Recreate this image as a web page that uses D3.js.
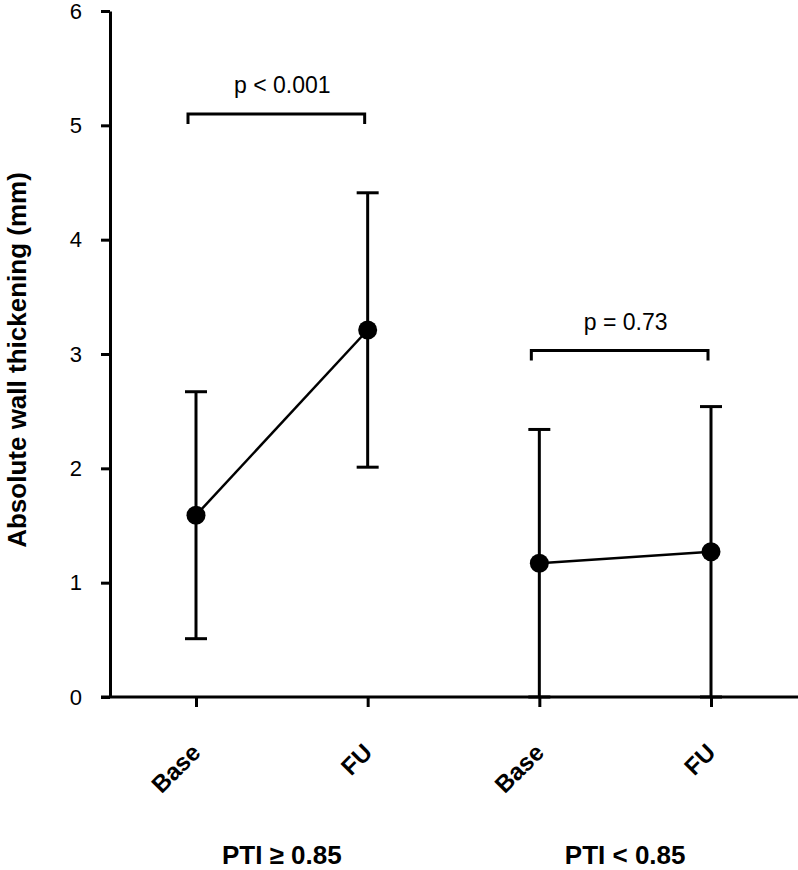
<!DOCTYPE html>
<html>
<head>
<meta charset="utf-8">
<script src="https://cdn.jsdelivr.net/npm/d3@7"></script>
<style>
  body { margin: 0; background: #fff; }
  text { font-family: "Liberation Sans", Arial, sans-serif; }
</style>
</head>
<body>
<svg id="chart"></svg>
<script>
const width = 798;
const height = 870;

// data
const timepoints = ["Base", "FU", "Base", "FU"];
const groups = ["PTI \u2265 0.85", "PTI < 0.85"];
const means = [1.59, 3.21, 1.17, 1.27];
const lower = [0.51, 2.01, 0, 0];
const upper = [2.67, 4.41, 2.34, 2.54];
const yTicks = [0, 1, 2, 3, 4, 5, 6];
const pLabels = ["p < 0.001", "p = 0.73"];
const pLevels = [5.1, 3.03];

const svg = d3.select("#chart").attr("width", width).attr("height", height);

const y = d3.scaleLinear().domain([0, 6]).range([697, 11]);
const x = d3.scalePoint().domain(d3.range(timepoints.length)).range([196, 711]);

// y axis
const yAxis = svg.append("g")
  .attr("transform", "translate(110,0)")
  .call(d3.axisLeft(y).tickValues(yTicks).tickFormat(d3.format("d"))
    .tickSize(9).tickSizeOuter(0).tickPadding(19));
yAxis.select(".domain").attr("stroke", "#000").attr("stroke-width", 3);
yAxis.selectAll(".tick line").attr("stroke-width", 3);
yAxis.selectAll(".tick text").attr("font-size", 22).attr("fill", "#000")
  .attr("font-family", "Liberation Sans, Arial, sans-serif");

// x axis
const xAxis = svg.append("g")
  .attr("transform", "translate(0,697)")
  .call(d3.axisBottom(x).tickSize(10).tickSizeOuter(0).tickFormat(""));
xAxis.select(".domain").attr("d", "M101,0H798").attr("stroke-width", 3);
xAxis.selectAll(".tick line").attr("stroke-width", 3);

// rotated tick labels
svg.append("g").selectAll("text")
  .data(timepoints)
  .join("text")
  .attr("transform", (d, i) => `translate(${x(i) + 6},754) rotate(-45)`)
  .attr("text-anchor", "end")
  .attr("font-size", 24)
  .attr("font-weight", "bold")
  .text(d => d);

// group labels
svg.append("g").selectAll("text")
  .data(groups)
  .join("text")
  .attr("x", (d, i) => (x(i * 2) + x(i * 2 + 1)) / 2)
  .attr("y", 864)
  .attr("text-anchor", "middle")
  .attr("font-size", 26)
  .attr("font-weight", "bold")
  .text(d => d);

// y label
svg.append("text")
  .attr("transform", "translate(26,360) rotate(-90)")
  .attr("text-anchor", "middle")
  .attr("font-size", 26)
  .attr("font-weight", "bold")
  .text("Absolute wall thickening (mm)");

// connecting lines per group
const line = d3.line().x(d => x(d)).y(d => y(means[d]));
[[0, 1], [2, 3]].forEach(pair => {
  svg.append("path")
    .attr("d", line(pair))
    .attr("fill", "none")
    .attr("stroke", "#000")
    .attr("stroke-width", 2.5);
});

// error bars
const eb = svg.append("g").attr("stroke", "#000").attr("stroke-width", 3);
eb.selectAll(".v").data(means).join("line")
  .attr("x1", (d, i) => x(i)).attr("x2", (d, i) => x(i))
  .attr("y1", (d, i) => y(upper[i])).attr("y2", (d, i) => y(lower[i]));
eb.selectAll(".cu").data(upper).join("line")
  .attr("x1", (d, i) => x(i) - 11).attr("x2", (d, i) => x(i) + 11)
  .attr("y1", d => y(d)).attr("y2", d => y(d));
eb.selectAll(".cl").data(lower).join("line")
  .attr("x1", (d, i) => x(i) - 11).attr("x2", (d, i) => x(i) + 11)
  .attr("y1", d => y(d)).attr("y2", d => y(d));

// markers
svg.append("g").selectAll("circle")
  .data(means)
  .join("circle")
  .attr("cx", (d, i) => x(i))
  .attr("cy", d => y(d))
  .attr("r", 9.5)
  .attr("fill", "#000");

// significance brackets
pLabels.forEach((lab, g) => {
  const x0 = x(g * 2) - 8, x1 = x(g * 2 + 1) - 3;
  const yb = y(pLevels[g]);
  svg.append("path")
    .attr("d", `M${x0},${yb + 10}V${yb}H${x1}V${yb + 10}`)
    .attr("fill", "none")
    .attr("stroke", "#000")
    .attr("stroke-width", 3);
  svg.append("text")
    .attr("x", (x0 + x1) / 2 + 6)
    .attr("y", yb - 21)
    .attr("text-anchor", "middle")
    .attr("font-size", 23)
    .text(lab);
});
</script>
</body>
</html>
